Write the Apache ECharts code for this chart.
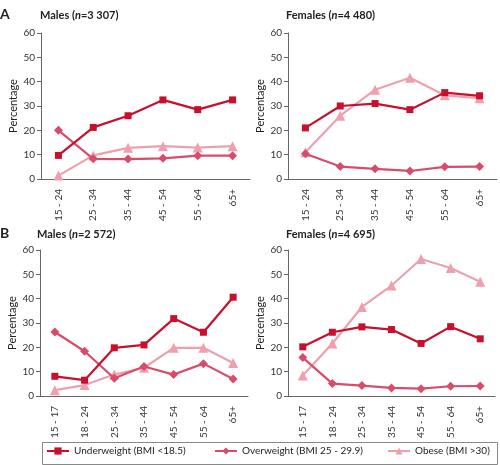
<!DOCTYPE html>
<html>
<head>
<meta charset="utf-8">
<script src="https://cdn.jsdelivr.net/npm/echarts@6/dist/echarts.min.js"></script>
<style>
  html, body { margin: 0; padding: 0; background: #fff; }
  #chart { width: 500px; height: 465px; }
</style>
</head>
<body>
<div id="chart"></div>
<script>
var myChart = echarts.init(document.getElementById('chart'));

// categories
var agesA = ['15 - 24', '25 - 34', '35 - 44', '45 - 54', '55 - 64', '65+'];
var agesB = ['15 - 17', '18 - 24', '25 - 34', '35 - 44', '45 - 54', '55 - 64', '65+'];

// A, males
var aMaleUnder = [9.7, 21.2, 26, 32.5, 28.5, 32.5];
var aMaleOver = [20, 8.3, 8.2, 8.5, 9.6, 9.6];
var aMaleObese = [1.4, 9.7, 12.8, 13.5, 12.9, 13.5];
// A, females
var aFemUnder = [21, 30, 31, 28.5, 35.5, 34.2];
var aFemOver = [10.4, 5.1, 4.2, 3.3, 5, 5.1];
var aFemObese = [11, 26, 36.7, 41.6, 34.4, 33.2];
// B, males
var bMaleUnder = [8.1, 6.5, 19.8, 21, 31.8, 26.2, 40.6];
var bMaleOver = [26.3, 18.4, 7.3, 12.1, 8.8, 13.3, 7];
var bMaleObese = [2.4, 4.5, 8.8, 11.6, 19.8, 19.8, 13.6];
// B, females
var bFemUnder = [20.2, 26.2, 28.4, 27.3, 21.6, 28.5, 23.5];
var bFemOver = [15.8, 5.1, 4.3, 3.3, 3, 4, 4.1];
var bFemObese = [8.4, 21.6, 36.6, 45.4, 56.3, 52.6, 47];

var names = ['Underweight (BMI <18.5)', 'Overweight (BMI 25 - 29.9)', 'Obese (BMI >30)'];
var colors = ['#c8102e', '#d84c6a', '#eea0ae'];
var symbols = ['rect', 'diamond', 'triangle'];
var symbolSizes = [7, 9, 10];

var font = 'Lato, "Open Sans", sans-serif';
var grids = [
    { left: 41, top: 33, width: 209, height: 146 },
    { left: 288, top: 33, width: 209, height: 146 },
    { left: 40, top: 250, width: 208, height: 146 },
    { left: 288, top: 250, width: 207, height: 146 }
];
var panelCats = [agesA, agesA, agesB, agesB];
var panelData = [
    [aMaleUnder, aMaleOver, aMaleObese],
    [aFemUnder, aFemOver, aFemObese],
    [bMaleUnder, bMaleOver, bMaleObese],
    [bFemUnder, bFemOver, bFemObese]
];

var xAxes = [], yAxes = [], series = [];
panelCats.forEach(function (cats, i) {
    xAxes.push({
        type: 'category',
        gridIndex: i,
        data: cats,
        boundaryGap: true,
        axisLine: { lineStyle: { color: '#666', width: 1 } },
        axisTick: { length: 4, lineStyle: { color: '#666' } },
        axisLabel: { rotate: 90, color: '#333', fontSize: 10, fontFamily: font, margin: 10 }
    });
    yAxes.push({
        type: 'value',
        gridIndex: i,
        min: 0,
        max: 60,
        interval: 10,
        name: 'Percentage',
        nameLocation: 'middle',
        nameGap: 22,
        nameTextStyle: { color: '#222', fontSize: 11, fontFamily: font },
        axisLine: { show: true, lineStyle: { color: '#666', width: 1 } },
        axisTick: { show: true, length: 4, lineStyle: { color: '#666' } },
        splitLine: { show: false },
        axisLabel: { color: '#333', fontSize: 10, fontFamily: font, margin: 6 }
    });
    panelData[i].forEach(function (vals, k) {
        series.push({
            name: names[k],
            type: 'line',
            xAxisIndex: i,
            yAxisIndex: i,
            data: vals,
            symbol: symbols[k],
            symbolSize: symbolSizes[k],
            z: 10 - k,
            lineStyle: { color: colors[k], width: 2.2 },
            itemStyle: { color: colors[k] }
        });
    });
});

var sub = function (who, n) {
    return who + ' ({i|n}=' + n + ')';
};
var titleRich = { i: { fontStyle: 'italic', fontWeight: 'bold', fontSize: 11, fontFamily: font, color: '#222' } };
var titleStyle = { fontSize: 11, fontWeight: 'bold', fontFamily: font, color: '#222', rich: titleRich };
var letterStyle = { fontSize: 14, fontWeight: 'bold', fontFamily: font, color: '#222' };

// one legend per item so each sits where the reference puts it
var legendLefts = [46, 214, 387];
var legends = names.map(function (nm, k) {
    return {
        data: [nm],
        left: legendLefts[k],
        top: 446,
        itemWidth: 22,
        itemHeight: 9,
        itemGap: 5,
        padding: 0,
        textStyle: { color: '#222', fontSize: 10, fontFamily: font }
    };
});

var option = {
    animation: false,
    title: [
        { text: 'A', left: 0, top: 7, padding: 0, textStyle: letterStyle },
        { text: sub('Males', '3 307'), left: 40, top: 10, padding: 0, textStyle: titleStyle },
        { text: sub('Females', '4 480'), left: 286, top: 10, padding: 0, textStyle: titleStyle },
        { text: 'B', left: 0, top: 226, padding: 0, textStyle: letterStyle },
        { text: sub('Males', '2 572'), left: 37, top: 229, padding: 0, textStyle: titleStyle },
        { text: sub('Females', '4 695'), left: 286, top: 229, padding: 0, textStyle: titleStyle }
    ],
    graphic: [{
        type: 'rect',
        left: 40,
        top: 440,
        shape: { width: 455, height: 22 },
        style: { fill: 'none', stroke: '#888', lineWidth: 1 }
    }],
    legend: legends,
    grid: grids,
    xAxis: xAxes,
    yAxis: yAxes,
    series: series
};

myChart.setOption(option);
</script>
</body>
</html>
